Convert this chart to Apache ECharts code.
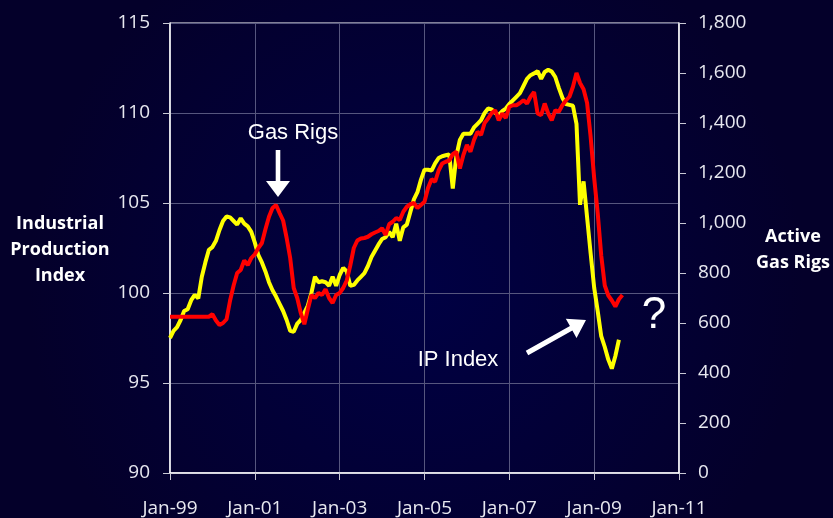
<!DOCTYPE html>
<html>
<head>
<meta charset="utf-8">
<script src="https://cdn.jsdelivr.net/npm/echarts@6/dist/echarts.min.js"></script>
<style>
html,body{margin:0;padding:0;width:833px;height:518px;overflow:hidden;background:#02002f;}
#c{width:833px;height:518px;}
</style>
</head>
<body>
<div id="c"></div>
<script>
// Monthly values starting Jan-1999 (index 0 = Jan-99)
const startLabelYear = 1999;
const xTickLabels = ['Jan-99','Jan-01','Jan-03','Jan-05','Jan-07','Jan-09','Jan-11'];
const ipIndex = [
  97.5, 97.9, 98.1, 98.5, 99.0, 99.1, 99.6, 99.9, 99.7, 100.9, 101.7, 102.4,
  102.55, 102.9, 103.5, 104.0, 104.25, 104.2, 104.0, 103.8, 104.15, 103.85, 103.7, 103.4,
  102.8, 102.1, 101.7, 101.2, 100.6, 100.15, 99.8, 99.4, 99.0, 98.5, 97.9, 97.85,
  98.3, 98.5, 98.9, 99.3, 100.0, 100.9, 100.6, 100.65, 100.6, 100.4, 100.9, 100.4,
  101.0, 101.4, 101.2, 100.4, 100.45, 100.7, 100.9, 101.1, 101.5, 102.0, 102.35, 102.7,
  103.0, 103.1, 103.4, 103.1, 103.85, 102.9, 103.65, 103.8, 104.5, 105.2, 105.6, 106.3,
  106.85, 106.85, 106.8, 107.2, 107.5, 107.6, 107.65, 107.7, 105.8, 107.6, 108.5, 108.85,
  108.85, 108.85, 109.2, 109.4, 109.6, 110.0, 110.25, 110.2, 110.0, 109.9, 110.1, 110.25,
  110.5, 110.7, 110.9, 111.1, 111.5, 111.9, 112.1, 112.2, 112.33, 111.9, 112.28, 112.4,
  112.3, 112.0, 111.4, 110.85, 110.5, 110.45, 110.4, 109.4, 104.9, 106.2, 104.2, 102.2,
  100.3, 99.0, 97.6, 97.0, 96.3, 95.8, 96.5, 97.4
];
const gasRigs = [
  625, 625, 625, 625, 625, 625, 625, 625, 625, 625, 625, 625,
  635, 610, 592, 600, 615, 690, 750, 800, 812, 850, 832, 860,
  875, 900, 920, 975, 1025, 1060, 1072, 1040, 1010, 940, 860, 740,
  700, 640, 595, 655, 712, 700, 720, 712, 735, 700, 680, 712,
  720, 740, 770, 830, 900, 930, 938, 940, 945, 955, 962, 968,
  979, 952, 995, 1005, 1020, 1012, 1045, 1065, 1075, 1080, 1060, 1072,
  1085, 1140, 1175, 1165, 1210, 1238, 1245, 1250, 1275, 1285, 1218, 1272,
  1312, 1285, 1332, 1365, 1352, 1400, 1418, 1440, 1451, 1411, 1438, 1420,
  1465, 1471, 1471, 1480, 1491, 1478, 1505, 1524, 1438, 1431, 1478, 1438,
  1411, 1451, 1445, 1471, 1490, 1505, 1545, 1600, 1560, 1535, 1480, 1345,
  1180, 1040, 870, 750, 710, 690, 666, 695, 712
];

const ipData = ipIndex.map((v, i) => [i, v]);
const rigData = gasRigs.map((v, i) => [i, v]);

function arrowPts(x1, y1, x2, y2, sw, hw, hl) {
  const dx = x2 - x1, dy = y2 - y1, L = Math.hypot(dx, dy);
  const ux = dx / L, uy = dy / L, nx = -uy, ny = ux;
  const bx = x2 - ux * hl, by = y2 - uy * hl;
  return [
    [x1 + nx * sw, y1 + ny * sw], [bx + nx * sw, by + ny * sw], [bx + nx * hw, by + ny * hw],
    [x2, y2],
    [bx - nx * hw, by - ny * hw], [bx - nx * sw, by - ny * sw], [x1 - nx * sw, y1 - ny * sw]
  ];
}

const chart = echarts.init(document.getElementById('c'), null, {renderer: 'canvas'});
const tickFont = {color: '#e8e8f0', fontFamily: 'Open Sans', fontSize: 19};
const gridLine = {show: true, lineStyle: {color: '#56567e', width: 1}};

chart.setOption({
  backgroundColor: {
    type: 'radial', x: 0.5, y: 0.55, r: 0.75,
    colorStops: [{offset: 0, color: '#000044'}, {offset: 1, color: '#04002a'}]
  },
  animation: false,
  grid: {left: 170, width: 509, top: 23, height: 450, show: true, borderColor: '#ffffff', borderWidth: 1, backgroundColor: 'transparent'},
  xAxis: {
    type: 'value', min: 0, max: 144, interval: 24,
    axisLine: {lineStyle: {color: '#ffffff', width: 1.5}},
    axisTick: {show: true, length: 7, lineStyle: {color: '#c8c8d4'}},
    axisLabel: Object.assign({margin: 26, formatter: v => xTickLabels[Math.round(v / 24)]}, tickFont),
    splitLine: gridLine
  },
  yAxis: [{
    type: 'value', min: 90, max: 115, interval: 5, position: 'left',
    axisLine: {show: true, lineStyle: {color: '#ffffff', width: 1.5}},
    axisTick: {show: true, length: 7, lineStyle: {color: '#c8c8d4'}},
    axisLabel: Object.assign({margin: 20}, tickFont),
    splitLine: gridLine
  }, {
    type: 'value', min: 0, max: 1800, interval: 200, position: 'right',
    axisLine: {show: true, lineStyle: {color: '#ffffff', width: 1.5}},
    axisTick: {show: true, length: 7, lineStyle: {color: '#c8c8d4'}},
    axisLabel: Object.assign({margin: 19, formatter: v => v.toLocaleString('en-US')}, tickFont),
    splitLine: {show: false}
  }],
  series: [{
    name: 'IP Index', type: 'line', yAxisIndex: 0, data: ipData, showSymbol: false,
    lineStyle: {color: '#ffff00', width: 4}, z: 3
  }, {
    name: 'Gas Rigs', type: 'line', yAxisIndex: 1, data: rigData, showSymbol: false,
    lineStyle: {color: '#ff0000', width: 4}, z: 4
  }],
  graphic: [
    {type: 'text', position: [60, 250], style: {text: 'Industrial\nProduction\nIndex', fill: '#ffffff', font: 'bold 18px "Open Sans"', align: 'center', verticalAlign: 'middle', lineHeight: 26}, z: 10},
    {type: 'text', position: [793, 250], style: {text: 'Active\nGas Rigs', fill: '#ffffff', font: 'bold 18px "Open Sans"', align: 'center', verticalAlign: 'middle', lineHeight: 26}, z: 10},
    {type: 'text', position: [293, 133], style: {text: 'Gas Rigs', fill: '#ffffff', font: '22px "Liberation Sans"', align: 'center', verticalAlign: 'middle'}, z: 10},
    {type: 'text', position: [458, 360], style: {text: 'IP Index', fill: '#ffffff', font: '22px "Liberation Sans"', align: 'center', verticalAlign: 'middle'}, z: 10},
    {type: 'text', position: [654, 316], style: {text: '?', fill: '#ffffff', font: '44px "Liberation Sans"', align: 'center', verticalAlign: 'middle'}, z: 10},
    {type: 'polygon', shape: {points: arrowPts(278, 150, 278, 197, 2.3, 12, 16)}, style: {fill: '#ffffff'}, z: 10},
    {type: 'polygon', shape: {points: arrowPts(527, 353, 586, 320, 2.5, 11, 17)}, style: {fill: '#ffffff'}, z: 10}
  ]
});
</script>
</body>
</html>
